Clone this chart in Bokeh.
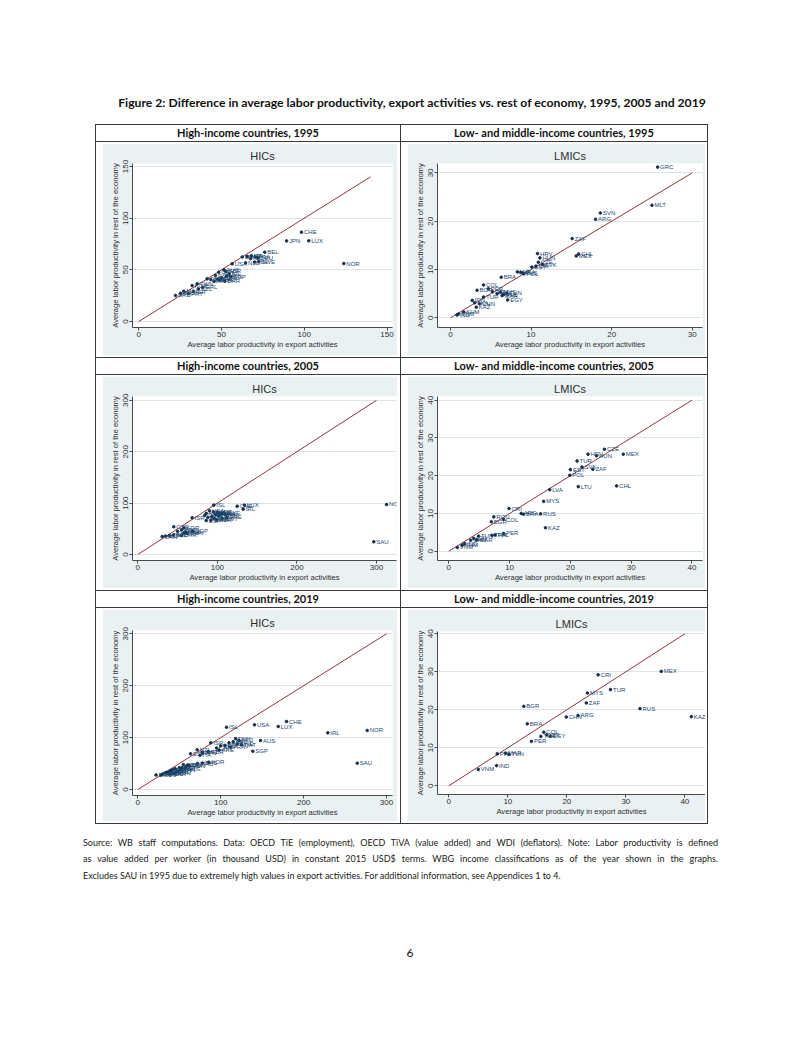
from bokeh.plotting import figure
from bokeh.layouts import column, row
from bokeh.models import Div, Spacer, Range1d, FixedTicker, ColumnDataSource
from bokeh.embed import file_html
from bokeh.resources import INLINE
from bokeh.core.properties import value

# ------------------------------------------------------------------ data
fig_title = ("Figure 2: Difference in average labor productivity, export activities vs. "
             "rest of economy, 1995, 2005 and 2019")
row_headers = [
    ("High-income countries, 1995", "Low- and middle-income countries, 1995"),
    ("High-income countries, 2005", "Low- and middle-income countries, 2005"),
    ("High-income countries, 2019", "Low- and middle-income countries, 2019"),
]
graph_titles = ["HICs", "LMICs"]
x_title = "Average labor productivity in export activities"
y_title = "Average labor productivity in rest of the economy"

hic1995_codes = ["CHE", "LUX", "JPN", "BEL", "NOR", "USA", "NLD", "FIN", "SWE", "DNK",
                 "AUT", "ITA", "FRA", "DEU", "ISL", "AUS", "CAN", "GBR", "IRL", "HKG",
                 "SGP", "ESP", "BRN", "ARE", "KWT", "CYP", "BHR", "QAT", "OMN", "TWN",
                 "KOR", "NZL", "ISR", "PRT", "MAC", "BHS", "BRB", "GRL"]
hic1995_x = [98.3, 102.7, 89.3, 76.1, 123.9, 56.4, 64.5, 70.0, 72.5, 62.5,
             65.5, 68.0, 70.5, 72.0, 67.5, 51.4, 48.3, 52.5, 54.5, 53.0,
             55.5, 46.3, 50.0, 47.5, 45.5, 49.0, 52.0, 43.5, 41.3, 35.3,
             32.2, 36.0, 33.0, 30.0, 27.2, 25.2, 22.2, 38.5]
hic1995_y = [86.4, 78.1, 78.0, 67.1, 56.1, 55.8, 56.8, 57.5, 58.0, 62.5,
             63.0, 63.5, 62.5, 61.5, 61.0, 50.0, 47.7, 48.5, 46.0, 44.0,
             43.5, 44.5, 42.5, 41.0, 39.0, 40.0, 39.0, 40.5, 41.3, 36.5,
             34.8, 31.5, 29.0, 27.0, 29.3, 27.4, 25.2, 33.0]

lmic1995_codes = ["GRC", "MLT", "SVN", "ARG", "ZAF", "CHL", "MEX", "HRV", "HUN", "CZE",
                  "SVK", "EST", "CRI", "LVA", "LTU", "POL", "RUS", "BRA", "COL", "BGR",
                  "PER", "THA", "MYS", "PHL", "TUN", "MAR", "TUR", "EGY", "IDN", "LKA",
                  "CHN", "KAZ", "KHM", "VNM", "IND", "ROU"]
lmic1995_x = [25.7, 25.0, 18.6, 18.0, 15.1, 15.9, 15.6, 10.8, 11.1, 10.9,
              11.4, 10.1, 10.6, 8.3, 8.7, 9.1, 8.9, 6.3, 4.1, 3.3,
              4.7, 5.8, 6.2, 6.6, 7.0, 6.4, 4.1, 7.1, 2.7, 3.0,
              3.6, 3.2, 1.65, 1.0, 0.8, 5.2]
lmic1995_y = [31.2, 23.3, 21.7, 20.4, 16.4, 13.2, 12.8, 13.3, 12.4, 11.5,
              11.0, 10.5, 10.7, 9.5, 9.4, 9.1, 9.3, 8.4, 6.8, 5.7,
              6.0, 5.0, 5.3, 4.8, 5.1, 4.6, 4.3, 3.7, 3.6, 3.1,
              2.9, 2.2, 1.2, 0.8, 0.6, 5.4]

hic2005_codes = ["NOR", "SAU", "CHE", "LUX", "IRL", "ISL", "USA", "NLD", "AUT", "BEL",
                 "DNK", "FRA", "SWE", "FIN", "DEU", "ITA", "JPN", "AUS", "CAN", "GBR",
                 "ESP", "KWT", "ARE", "ISR", "KOR", "CYP", "SGP", "PRT", "GRC", "SVN",
                 "HKG", "TWN", "NZL", "MLT", "BHR", "OMN", "BRN", "QAT", "MAC"]
hic2005_x = [312.6, 296.6, 124.9, 134.1, 132.4, 95.5, 90.0, 95.0, 100.0, 103.0,
             98.0, 105.0, 108.0, 110.0, 102.0, 93.0, 88.0, 96.0, 92.0, 99.0,
             86.0, 106.0, 112.0, 68.3, 57.8, 45.2, 69.1, 55.0, 50.0, 58.0,
             60.0, 40.0, 45.0, 35.0, 55.0, 62.0, 30.7, 84.0, 86.0]
hic2005_y = [97.3, 24.7, 94.0, 96.0, 88.2, 96.0, 85.0, 83.0, 82.0, 80.0,
             78.0, 79.0, 80.0, 77.0, 75.0, 74.0, 72.0, 70.0, 67.0, 68.0,
             66.0, 70.0, 72.0, 71.4, 52.0, 53.9, 45.3, 48.0, 45.0, 42.0,
             44.0, 37.0, 38.0, 36.0, 37.0, 41.0, 35.0, 76.0, 80.0]

lmic2005_codes = ["CZE", "MEX", "HRV", "HUN", "TUR", "EST", "SVK", "ZAF", "POL", "LTU",
                  "CHL", "LVA", "MYS", "CRI", "ARG", "BRA", "RUS", "ROU", "COL", "BGR",
                  "KAZ", "PER", "THA", "PHL", "TUN", "IDN", "CHN", "MAR", "KHM", "VNM",
                  "IND"]
lmic2005_x = [25.6, 28.7, 22.9, 24.3, 21.1, 20.0, 21.9, 23.7, 19.9, 21.3,
              27.6, 16.6, 15.6, 9.9, 11.9, 12.3, 15.1, 7.4, 9.0, 7.0,
              15.9, 9.0, 7.1, 7.6, 4.9, 4.1, 3.6, 4.6, 2.2, 1.4,
              2.6]
lmic2005_y = [27.0, 25.7, 25.7, 25.3, 23.9, 21.6, 22.3, 21.7, 20.1, 17.1,
              17.3, 16.3, 13.2, 11.3, 10.0, 9.8, 9.9, 9.1, 8.4, 7.8,
              6.2, 4.7, 4.2, 4.3, 4.0, 3.4, 2.9, 3.0, 1.6, 1.0,
              2.0]

hic2019_codes = ["NOR", "IRL", "SAU", "CHE", "USA", "LUX", "ISL", "AUS", "SGP", "KOR",
                 "DNK", "NLD", "BEL", "AUT", "SWE", "FIN", "DEU", "FRA", "CAN", "QAT",
                 "ARE", "ISR", "GBR", "JPN", "NZL", "ITA", "ESP", "KWT", "CZE", "SVN",
                 "PRT", "GRC", "EST", "LTU", "LVA", "SVK", "HUN", "POL", "HRV", "CHL",
                 "URY", "PAN", "ROU", "CYP", "MLT", "TWN", "HKG", "BHR", "OMN", "BRN",
                 "MAC", "BHS"]
hic2019_x = [276.7, 229.2, 264.7, 179.4, 140.8, 169.4, 107.0, 148.0, 138.7, 85.6,
             118.0, 122.0, 115.0, 110.0, 120.0, 105.0, 100.0, 112.0, 95.0, 125.0,
             98.0, 88.0, 85.0, 78.0, 71.6, 75.0, 63.6, 77.7, 55.0, 60.0,
             50.0, 45.0, 42.0, 38.0, 35.0, 40.0, 33.0, 37.0, 30.0, 45.0,
             48.0, 52.0, 28.0, 58.0, 53.0, 62.0, 57.0, 40.0, 44.0, 22.0,
             72.0, 78.0]
hic2019_y = [113.7, 109.2, 50.7, 131.0, 124.6, 121.4, 120.0, 94.4, 73.8, 52.6,
             98.0, 95.0, 92.0, 90.0, 88.0, 85.0, 84.0, 82.0, 80.0, 86.0,
             76.0, 90.0, 73.0, 70.0, 76.5, 66.0, 68.8, 71.9, 48.0, 47.0,
             42.0, 40.0, 38.0, 35.0, 33.0, 36.0, 32.0, 30.0, 30.0, 33.0,
             35.0, 38.0, 28.0, 44.0, 42.0, 46.0, 40.0, 30.0, 31.0, 28.0,
             50.0, 51.0]

lmic2019_codes = ["MEX", "CRI", "TUR", "MYS", "ZAF", "BGR", "RUS", "KAZ", "CHN", "ARG",
                  "BRA", "COL", "THA", "IDN", "EGY", "PER", "PHL", "MAR", "TUN", "IND",
                  "VNM"]
lmic2019_x = [36.0, 25.3, 27.4, 23.5, 23.3, 12.7, 32.4, 41.1, 19.9, 21.9,
              13.3, 16.1, 15.6, 16.6, 17.2, 14.0, 8.2, 9.6, 10.2, 8.1,
              5.0]
lmic2019_y = [30.1, 29.2, 25.3, 24.4, 21.8, 20.9, 20.3, 18.2, 18.1, 18.5,
              16.3, 14.1, 13.0, 13.4, 13.0, 11.7, 8.4, 8.6, 8.3, 5.3,
              4.3]

# 45-degree reference line end points (per panel)
diag_end = [140, 30, 300, 40, 300, 40]
x_ticks = [[0, 50, 100, 150], [0, 10, 20, 30], [0, 100, 200, 300],
           [0, 10, 20, 30, 40], [0, 100, 200, 300], [0, 10, 20, 30, 40]]
y_ticks = [[0, 50, 100, 150], [0, 10, 20, 30], [0, 100, 200, 300],
           [0, 10, 20, 30, 40], [0, 100, 200, 300], [0, 10, 20, 30, 40]]

source_lines = [
    "Source: WB staff computations. Data: OECD TiE (employment), OECD TiVA (value added) and WDI (deflators). Note: Labor productivity is defined",
    "as value added per worker (in thousand USD) in constant 2015 USD$ terms. WBG income classifications as of the year shown in the graphs.",
    "Excludes SAU in 1995 due to extremely high values in export activities. For additional information, see Appendices 1 to 4.",
]
page_number = "6"

# ------------------------------------------------------------------ style
GRAPH_BG = "#eaf1f3"
LINE_C = "#3a3a3a"
NAVY = "#1a476f"
MAROON = "#90353b"
AXIS_C = "#4a4a4a"
TXT_C = "#2e2e2e"
SANS = "Liberation Sans"
DOC = "Lato"

# panel geometry: (x_range, y_range, width, height, border l, r, t, b)
geom = [
    ((-3.81, 153.3), (-5.81, 152.95), 295, 212, 30, 5, 20, 28),
    ((-1.61, 31.27), (-2.01, 31.95), 298, 212, 30, 3, 20, 28),
    ((-6.66, 325.1), (-11.67, 307.4), 295, 212, 30, 1, 20, 28),
    ((-1.86, 41.73), (-2.46, 40.98), 298, 212, 30, 3, 20, 28),
    ((-6.39, 307.2), (-11.56, 306.4), 295, 212, 30, 5, 21, 26),
    ((-1.92, 43.5), (-2.29, 40.6), 298, 212, 30, 0, 22, 27),
]
panel_data = [
    (hic1995_codes, hic1995_x, hic1995_y),
    (lmic1995_codes, lmic1995_x, lmic1995_y),
    (hic2005_codes, hic2005_x, hic2005_y),
    (lmic2005_codes, lmic2005_x, lmic2005_y),
    (hic2019_codes, hic2019_x, hic2019_y),
    (lmic2019_codes, lmic2019_x, lmic2019_y),
]


def make_panel(i):
    codes, xs, ys = panel_data[i]
    xr, yr, w, h, bl, br, bt, bb = geom[i]
    p = figure(width=w, height=h, x_range=Range1d(xr[0], xr[1]), y_range=Range1d(yr[0], yr[1]),
               output_backend="svg", toolbar_location=None,
               min_border_left=bl, min_border_right=br, min_border_top=bt, min_border_bottom=bb,
               border_fill_color=GRAPH_BG, background_fill_color="white",
               outline_line_color=None, title=graph_titles[i % 2])
    p.title.align = "center"
    p.title.text_font = SANS
    p.title.text_font_size = "11px"
    p.title.text_font_style = "normal"
    p.title.text_color = TXT_C
    p.title.standoff = 3
    for ax in (p.xaxis[0], p.yaxis[0]):
        ax.axis_line_color = AXIS_C
        ax.major_tick_line_color = AXIS_C
        ax.minor_tick_line_color = None
        ax.major_tick_out = 3
        ax.major_tick_in = 0
        ax.major_label_text_font = SANS
        ax.major_label_text_font_size = "8px"
        ax.major_label_text_color = TXT_C
        ax.axis_label_text_font = SANS
        ax.axis_label_text_font_size = "7.6px"
        ax.axis_label_text_font_style = "normal"
        ax.axis_label_text_color = TXT_C
    p.xaxis.ticker = FixedTicker(ticks=x_ticks[i])
    p.yaxis.ticker = FixedTicker(ticks=y_ticks[i])
    p.xaxis.axis_label = x_title
    p.yaxis.axis_label = y_title
    p.xaxis.major_label_standoff = 1
    p.xaxis.axis_label_standoff = 0
    p.yaxis.major_label_standoff = 1
    p.yaxis.axis_label_standoff = 1
    p.yaxis.major_label_orientation = "vertical"
    p.xgrid.visible = False
    p.ygrid.grid_line_color = "#dbe5e8"
    d = diag_end[i]
    p.line(x=[0, d], y=[0, d], line_color=MAROON, line_width=1)
    src = ColumnDataSource(dict(x=xs, y=ys, code=codes))
    p.scatter("x", "y", source=src, size=2.6, fill_color="#142f4c", line_color="#142f4c")
    p.text(x="x", y="y", text="code", source=src, x_offset=2.5, text_baseline="middle",
           text_align="left", text_font=value(SANS), text_font_size="6px", text_color=NAVY)
    return p


def hline(w):
    return Div(text="", width=w, height=1, margin=0, styles={"background-color": LINE_C})


def vline(h):
    return Div(text="", width=1, height=h, margin=0, styles={"background-color": LINE_C})


def head(text, w):
    return Div(text=text, width=w, height=16, margin=0,
               styles={"text-align": "center", "font-family": DOC, "font-weight": "bold",
                       "font-size": "11px", "line-height": "16px", "color": "#111111",
                       "white-space": "nowrap"})


def graph_cell(fig, cw, left, top, fw, fh):
    right = cw - left - fw
    bottom = 215 - top - fh
    inner = column(Spacer(width=fw, height=top), fig, Spacer(width=fw, height=bottom))
    return row(Spacer(width=left, height=215), inner, Spacer(width=right, height=215))


TW = 1 + 304 + 1 + 306 + 1
table_children = [hline(TW)]
for r in range(3):
    hl, hr = row_headers[r]
    table_children.append(row(vline(16), head(hl, 304), vline(16), head(hr, 306), vline(16)))
    table_children.append(hline(TW))
    pl = make_panel(2 * r)
    pr = make_panel(2 * r + 1)
    cl = graph_cell(pl, 304, 6, 1, 295, 212)
    cr = graph_cell(pr, 306, 6, 1, 298, 212)
    table_children.append(row(vline(215), cl, vline(215), cr, vline(215)))
    table_children.append(hline(TW))
table = column(*table_children)

title_div = Div(text=fig_title, width=764, height=18, margin=0,
                styles={"text-align": "center", "font-family": DOC, "font-weight": "bold",
                        "font-size": "12.2px", "line-height": "18px", "color": "#111111",
                        "white-space": "nowrap"})

src_divs = []
for k, (t, hgt) in enumerate(zip(source_lines, [16, 17, 16])):
    last = "justify" if k < len(source_lines) - 1 else "left"
    html = (f'<div style="width:635px;text-align:justify;text-align-last:{last};'
            f'font-family:{DOC};font-size:9px;line-height:{hgt}px;color:#1a1a1a;">{t}</div>')
    src_divs.append(Div(text=html, width=635, height=hgt, margin=0))

page_div = Div(text=page_number, width=20, height=18, margin=0,
               styles={"text-align": "center", "font-family": DOC, "font-size": "12px",
                       "line-height": "18px", "color": "#111111"})

page = column(
    Spacer(width=786, height=94),
    row(Spacer(width=30, height=18), title_div),
    Spacer(width=10, height=12),
    row(Spacer(width=95, height=700), table),
    Spacer(width=10, height=10),
    row(Spacer(width=83, height=16), src_divs[0]),
    row(Spacer(width=83, height=17), src_divs[1]),
    row(Spacer(width=83, height=16), src_divs[2]),
    Spacer(width=10, height=61),
    row(Spacer(width=400, height=18), page_div),
)

open("out.html", "w").write(file_html(page, INLINE, title="Figure 2"))
